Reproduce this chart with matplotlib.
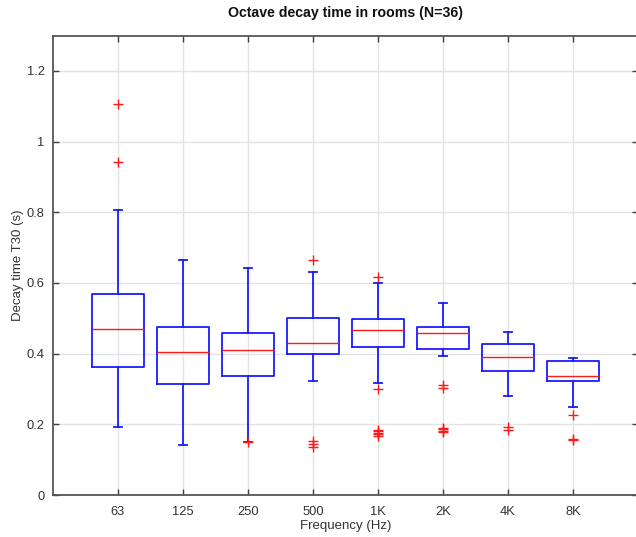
import matplotlib
matplotlib.use("Agg")
import matplotlib.pyplot as plt

plt.rcParams.update({
    "font.family": ["Liberation Sans", "DejaVu Sans"],
    "font.size": 9,
})

# octave bands
bands = ["63", "125", "250", "500", "1K", "2K", "4K", "8K"]

# box statistics (seconds)
q1 = [0.363, 0.314, 0.336, 0.398, 0.420, 0.412, 0.352, 0.323]
med = [0.470, 0.405, 0.411, 0.431, 0.468, 0.458, 0.390, 0.338]
q3 = [0.569, 0.476, 0.459, 0.500, 0.497, 0.476, 0.427, 0.379]
whislo = [0.192, 0.141, 0.151, 0.323, 0.316, 0.393, 0.279, 0.249]
whishi = [0.807, 0.665, 0.642, 0.632, 0.601, 0.543, 0.462, 0.387]
fliers = [
    [1.107, 0.942],
    [],
    [0.150],
    [0.665, 0.152, 0.144, 0.136],
    [0.618, 0.301, 0.184, 0.180, 0.176, 0.172, 0.168],
    [0.311, 0.302, 0.190, 0.186, 0.182, 0.179],
    [0.191, 0.183],
    [0.226, 0.159, 0.157],
]

stats = []
for i in range(len(bands)):
    stats.append({
        "q1": q1[i], "med": med[i], "q3": q3[i],
        "whislo": whislo[i], "whishi": whishi[i],
        "fliers": fliers[i], "label": bands[i],
    })

fig = plt.figure(figsize=(6.36, 5.37), dpi=100)
ax = fig.add_axes([53 / 636, 42 / 537, 585 / 636, 459.5 / 537])

blue = "#1a1aff"
red = "#ff1a1a"
ax.bxp(
    stats,
    positions=range(1, len(bands) + 1),
    widths=0.8,
    capwidths=0.12,
    boxprops=dict(color=blue, linewidth=1.3),
    whiskerprops=dict(color=blue, linewidth=1.3),
    capprops=dict(color=blue, linewidth=1.3),
    medianprops=dict(color=red, linewidth=1.0),
    flierprops=dict(marker="+", markeredgecolor=red, markersize=7, markeredgewidth=1.0),
    zorder=3,
)

ax.set_xlim(0, 9)
ax.set_ylim(0, 1.3)
ax.set_yticks([0, 0.2, 0.4, 0.6, 0.8, 1.0, 1.2])
ax.set_yticklabels(["0", "0.2", "0.4", "0.6", "0.8", "1", "1.2"])
ax.set_xticks(range(1, len(bands) + 1))
ax.set_xticklabels(bands)

ax.grid(True, color="#e3e3e3", linewidth=1.0, zorder=0)
ax.set_axisbelow(True)
ax.tick_params(direction="in", top=True, right=True, length=4, width=1.0,
               colors="#404040", labelcolor="#333333", labelsize=9.3)
ax.tick_params(axis="x", pad=8)
ax.tick_params(axis="y", pad=6)
for s in ax.spines.values():
    s.set_color("#555555")
    s.set_linewidth(1.3)

ax.set_xlabel("Frequency (Hz)", fontsize=9.5, color="#333333", labelpad=1)
ax.set_ylabel("Decay time T30 (s)", fontsize=9.5, color="#333333", labelpad=2)
ax.set_title("Octave decay time in rooms (N=36)", fontsize=10.2, fontweight="bold",
             color="#111111", pad=13)

fig.savefig("out.png", dpi=100)
